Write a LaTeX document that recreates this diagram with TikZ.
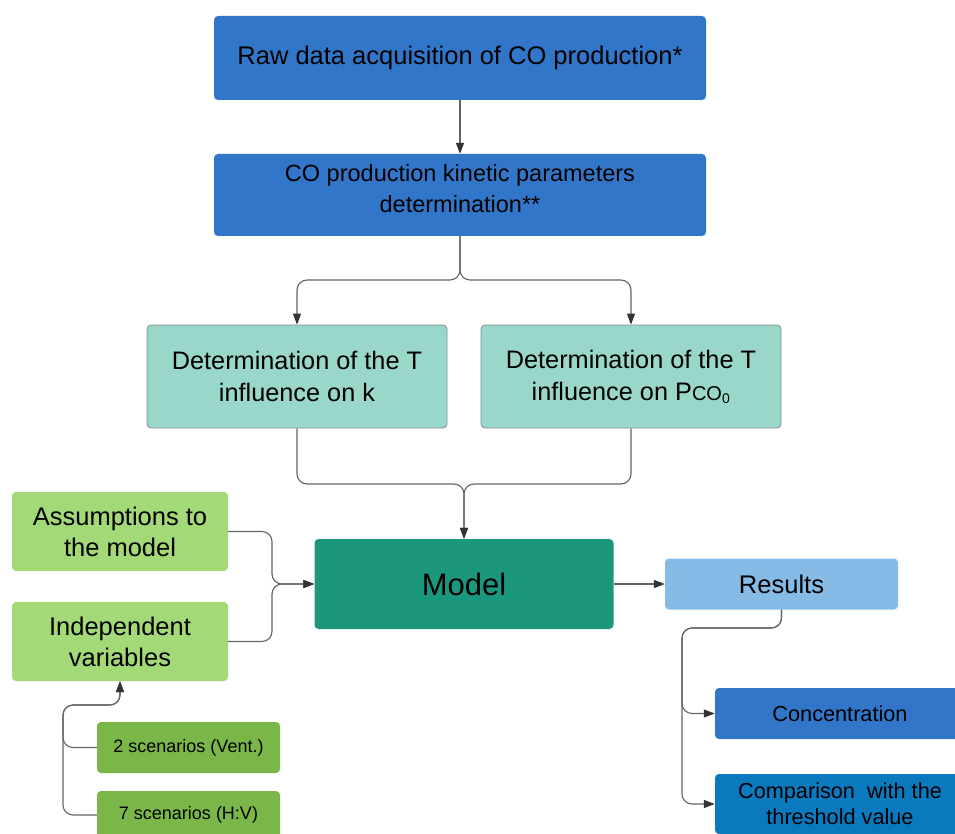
\documentclass[tikz,border=0pt]{standalone}
\usepackage{fontspec}
\setmainfont{Liberation Sans}
\usetikzlibrary{arrows.meta}
\definecolor{blueA}{RGB}{50,118,201}
\definecolor{blueB}{RGB}{11,121,190}
\definecolor{blueL}{RGB}{134,187,230}
\definecolor{tealL}{RGB}{154,215,203}
\definecolor{tealD}{RGB}{26,151,125}
\definecolor{greenL}{RGB}{163,217,119}
\definecolor{greenD}{RGB}{122,182,72}
\definecolor{lineC}{RGB}{100,100,100}
\begin{document}
\begin{tikzpicture}[x=1pt,y=-1pt,
  box/.style={rounded corners=4pt, inner sep=0pt, align=center, text=black},
  conn/.style={draw=lineC, line width=1.1pt, rounded corners=10pt},
  arr/.style={conn, -{Triangle[length=11pt,width=8pt,color=black!80]}}]
\useasboundingbox (0,0) rectangle (955,834);
\node[box, fill=blueA, minimum width=492pt, minimum height=84pt, font=\fontsize{25.5}{30}\selectfont] (raw) at (460,58) {\raisebox{4pt}{Raw data acquisition of CO production*}};
\node[box, fill=blueA, minimum width=492pt, minimum height=82pt] (kin) at (460,195) {};
\node[box, font=\fontsize{23.5}{31}\selectfont] (kinT) at (460,189) {CO production kinetic parameters\\determination**};
\node[box, fill=tealL, draw=black!45, line width=0.8pt, minimum width=300pt, minimum height=103pt, font=\fontsize{25.3}{32}\selectfont] (detK) at (297,376.5) {Determination of the T\\influence on k};
\node[box, fill=tealL, draw=black!45, line width=0.8pt, minimum width=300pt, minimum height=103pt, font=\fontsize{25.3}{32}\selectfont] (detP) at (631,376.5) {Determination of the T\\influence on P{\fontsize{20}{20}\selectfont CO\textsubscript{0}}};
\node[box, fill=tealD, minimum width=299pt, minimum height=90pt, font=\fontsize{31}{34}\selectfont] (model) at (464,584) {Model};
\node[box, fill=greenL, minimum width=216pt, minimum height=79pt, font=\fontsize{25.5}{31}\selectfont] (assump) at (120,531.5) {Assumptions to\\the model};
\node[box, fill=greenL, minimum width=216pt, minimum height=79pt, font=\fontsize{25.5}{31}\selectfont] (indep) at (120,641.5) {Independent\\variables};
\node[box, fill=greenD, minimum width=183pt, minimum height=51pt, font=\fontsize{18}{22}\selectfont] (s2) at (188.5,747.5) {2 scenarios (Vent.)};
\node[box, fill=greenD, minimum width=183pt, minimum height=48pt, font=\fontsize{18}{22}\selectfont] (s7) at (188.5,815) {7 scenarios (H:V)};
\node[box, fill=blueL, minimum width=233pt, minimum height=51pt, font=\fontsize{25.5}{30}\selectfont] (results) at (781.5,584) {Results};
\node[box, fill=blueA, minimum width=250pt, minimum height=51pt, font=\fontsize{21.7}{26}\selectfont] (conc) at (840,713.5) {Concentration};
\node[box, fill=blueB, minimum width=250pt, minimum height=60pt, font=\fontsize{21.7}{26}\selectfont] (comp) at (840,804) {Comparison\ \ with the\\threshold value};
% connectors
\coordinate (ks) at (460,280);
\coordinate (mj) at (464,484);
\coordinate (lj) at (272,584);
\coordinate (rj) at (682,628);
\coordinate (sj) at (63,705);
\draw[arr] (raw.south) -- (kin.north);
\draw[arr] (kin.south) -- (ks) -| (detK.north);
\draw[arr] (kin.south) -- (ks) -| (detP.north);
\draw[arr] (detP.south) |- (mj) -- (model.north);
\draw[arr] (detK.south) |- (mj) -- (model.north);
\draw[arr] (indep.east) -| (lj) -- (model.west);
\draw[arr] (assump.east) -| (lj) -- (model.west);
\draw[arr] (model.east) -- (results.west);
\draw[arr] (results.south) |- (rj) |- (conc.west);
\draw[arr] (results.south) |- (rj) |- (comp.west);
\draw[arr] (s7.west) -| (sj) -| (indep.south);
\draw[arr] (s2.west) -| (sj) -| (indep.south);
\end{tikzpicture}
\end{document}
